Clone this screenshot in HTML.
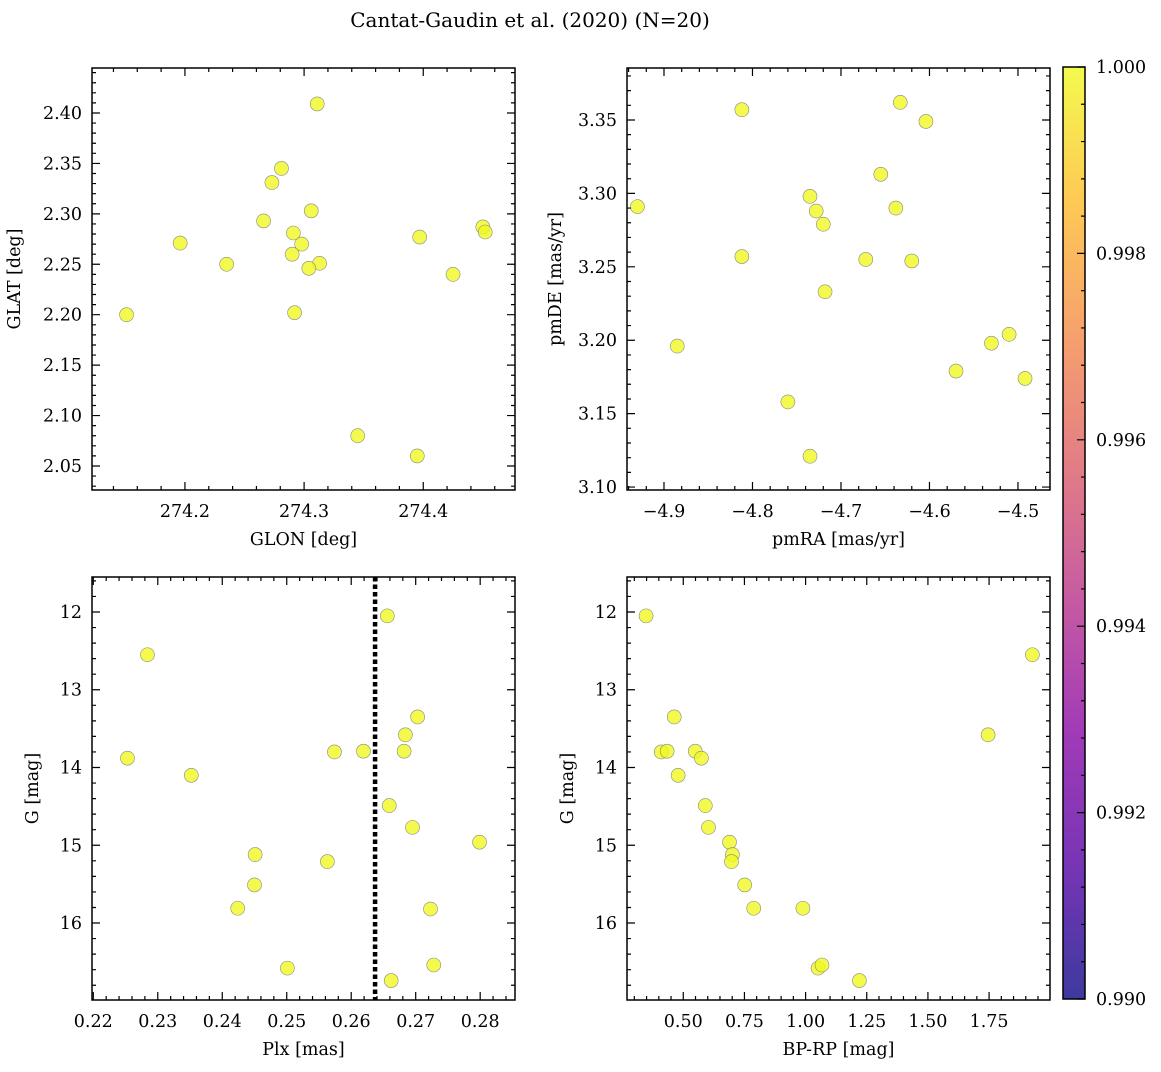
<!DOCTYPE html>
<html><head><meta charset="utf-8"><style>
body{margin:0;background:#fff;}
svg text{font-family:"DejaVu Serif","Liberation Serif",serif;fill:#000;}
</style></head><body>
<svg id="fig" width="1161" height="1067" xmlns="http://www.w3.org/2000/svg">
<defs><linearGradient id="plasma" x1="0" y1="1" x2="0" y2="0">
<stop offset="0" stop-color="#0d0887"/><stop offset="0.14" stop-color="#5302a3"/><stop offset="0.29" stop-color="#8b0aa5"/><stop offset="0.43" stop-color="#b83289"/><stop offset="0.57" stop-color="#db5c68"/><stop offset="0.71" stop-color="#f48849"/><stop offset="0.86" stop-color="#febd2a"/><stop offset="1" stop-color="#f0f921"/></linearGradient></defs>
<text x="530" y="27" font-size="20" text-anchor="middle">Cantat-Gaudin et al. (2020) (N=20)</text>
</svg>
<script>
const glon=[274.151,274.196,274.235,274.266,274.273,274.281,274.291,274.290,274.298,274.292,274.306,274.311,274.313,274.304,274.345,274.395,274.397,274.425,274.450,274.452];
const glat=[2.200,2.271,2.250,2.293,2.331,2.345,2.281,2.260,2.270,2.202,2.303,2.409,2.251,2.246,2.080,2.060,2.277,2.240,2.287,2.282];
const pmra=[-4.930,-4.885,-4.812,-4.812,-4.760,-4.735,-4.735,-4.728,-4.720,-4.718,-4.672,-4.655,-4.638,-4.633,-4.620,-4.604,-4.570,-4.530,-4.510,-4.492];
const pmde=[3.291,3.196,3.357,3.257,3.158,3.298,3.121,3.288,3.279,3.233,3.255,3.313,3.290,3.362,3.254,3.349,3.179,3.198,3.204,3.174];
const plx=[0.2253,0.2284,0.2352,0.2424,0.2450,0.2451,0.2501,0.2563,0.2574,0.2619,0.2656,0.2659,0.2662,0.2682,0.2684,0.2695,0.2703,0.2723,0.2728,0.2799];
const gmag3=[13.88,12.55,14.10,15.81,15.51,15.12,16.58,15.21,13.80,13.79,12.05,14.49,16.74,13.79,13.58,14.77,13.35,15.82,16.54,14.96];
const bprp=[0.348,0.410,0.434,0.463,0.479,0.549,0.574,0.590,0.603,0.689,0.701,0.697,0.751,0.788,0.989,1.051,1.067,1.220,1.746,1.927];
const gmag4=[12.05,13.80,13.79,13.35,14.10,13.79,13.88,14.49,14.77,14.96,15.12,15.21,15.51,15.81,15.81,16.58,16.54,16.74,13.58,12.55];
const plxRef=0.2637;
const cbTicks=[0.990,0.992,0.994,0.996,0.998,1.000];
const NS="http://www.w3.org/2000/svg";
const svg=document.getElementById('fig');
const FS=17.5;
function mk(tag,attrs,parent){const e=document.createElementNS(NS,tag);for(const k in attrs)e.setAttribute(k,attrs[k]);(parent||svg).appendChild(e);return e;}
function panel(o){
 const g=mk('g',{});
 
 
 const sx=v=>o.x0+(v-o.xmin)/(o.xmax-o.xmin)*(o.x1-o.x0);
 const sy=o.inv?(v=>o.y0+(v-o.ymin)/(o.ymax-o.ymin)*(o.y1-o.y0)):(v=>o.y1-(v-o.ymin)/(o.ymax-o.ymin)*(o.y1-o.y0));
 if(o.vline!==undefined){const l=mk('line',{x1:sx(o.vline),x2:sx(o.vline),y1:o.y0,y2:o.y1,stroke:'#000','stroke-width':4.5,'stroke-dasharray':'4.5,3'},g);
  
  }
 for(let i=0;i<o.xs.length;i++){const c=mk('circle',{cx:sx(o.xs[i]),cy:sy(o.ys[i]),r:7,fill:'#f0f921','fill-opacity':0.8,stroke:'#888','stroke-width':0.6},g);
  
  }
 const eps=1e-9;
 function ticks(min,max,step){const a=[];for(let v=Math.ceil(min/step-eps)*step;v<=max+eps;v+=step)a.push(v);return a;}
 let p='';
 ticks(o.xmin,o.xmax,o.xminor).forEach(v=>{const X=sx(v);p+=`M${X},${o.y1}v-4M${X},${o.y0}v4`;});
 ticks(o.ymin,o.ymax,o.yminor).forEach(v=>{const Y=sy(v);p+=`M${o.x0},${Y}h4M${o.x1},${Y}h-4`;});
 ticks(o.xmin,o.xmax,o.xmajor).forEach(v=>{const X=sx(v);p+=`M${X},${o.y1}v-8M${X},${o.y0}v8`;
  const t=mk('text',{x:X,y:o.y1+27,'font-size':FS,'text-anchor':'middle'},g);t.textContent=o.fx(v);
  
  });
 ticks(o.ymin,o.ymax,o.ymajor).forEach(v=>{const Y=sy(v);p+=`M${o.x0},${Y}h8M${o.x1},${Y}h-8`;
  const t=mk('text',{x:o.x0-10,y:Y+6,'font-size':FS,'text-anchor':'end'},g);t.textContent=o.fy(v);
  
  });
 mk('path',{d:p,stroke:'#000','stroke-width':1.2,fill:'none'},g);
 mk('rect',{x:o.x0,y:o.y0,width:o.x1-o.x0,height:o.y1-o.y0,fill:'none',stroke:'#000','stroke-width':1.5},g);
 const xl=mk('text',{x:(o.x0+o.x1)/2,y:o.y1+55,'font-size':FS,'text-anchor':'middle'},g);xl.textContent=o.xl;
 
 
 const yx=o.x0-o.ylo,yy=(o.y0+o.y1)/2;
 const yl=mk('text',{x:yx,y:yy,'font-size':FS,'text-anchor':'middle',transform:`rotate(-90 ${yx} ${yy})`},g);yl.textContent=o.yl;
 
 
}
const f1=v=>v.toFixed(1),f2=v=>v.toFixed(2),f0=v=>v.toFixed(0);
panel({name:'glon-glat-panel',xs:glon,ys:glat,x0:92,x1:515,y0:68,y1:490,xmin:274.122,xmax:274.477,ymin:2.0262,ymax:2.4446,xmajor:0.1,xminor:0.02,ymajor:0.05,yminor:0.01,fx:f1,fy:f2,xl:'GLON [deg]',yl:'GLAT [deg]',ylo:72});
panel({name:'proper-motion-panel',xs:pmra,ys:pmde,x0:627,x1:1050,y0:68,y1:490,xmin:-4.9418,xmax:-4.4638,ymin:3.098,ymax:3.3854,xmajor:0.1,xminor:0.02,ymajor:0.05,yminor:0.01,fx:v=>f1(v).replace('-','\u2212'),fy:f2,xl:'pmRA [mas/yr]',yl:'pmDE [mas/yr]',ylo:66});
panel({name:'parallax-mag-panel',xs:plx,ys:gmag3,x0:92,x1:515,y0:577,y1:1000,xmin:0.2198,xmax:0.2854,ymin:11.55,ymax:16.99,inv:true,xmajor:0.01,xminor:0.002,ymajor:1,yminor:0.2,fx:f2,fy:f0,xl:'Plx [mas]',yl:'G [mag]',ylo:54,vline:plxRef});
panel({name:'cmd-panel',xs:bprp,ys:gmag4,x0:627,x1:1050,y0:577,y1:1000,xmin:0.270,xmax:1.999,ymin:11.55,ymax:16.99,inv:true,xmajor:0.25,xminor:0.05,ymajor:1,yminor:0.2,fx:f2,fy:f0,xl:'BP-RP [mag]',yl:'G [mag]',ylo:54});
const cb=mk('g',{});


mk('rect',{x:1063,y:67,width:22,height:932,fill:'url(#plasma)','fill-opacity':0.8},cb);
mk('rect',{x:1063,y:67,width:22,height:932,fill:'none',stroke:'#000','stroke-width':1.5},cb);
const cy=v=>999-(v-0.990)/0.010*932;
let cp='';
for(let i=0;i<=25;i++){const Y=cy(0.990+i*0.0004);cp+=`M1085,${Y}h-4`;}
cbTicks.forEach(v=>{const Y=cy(v);cp+=`M1085,${Y}h-8`;
 const t=mk('text',{x:1096,y:Y+6,'font-size':FS},cb);t.textContent=v.toFixed(3);
 
 });
mk('path',{d:cp,stroke:'#000','stroke-width':1.2},cb);
</script>
</body></html>
